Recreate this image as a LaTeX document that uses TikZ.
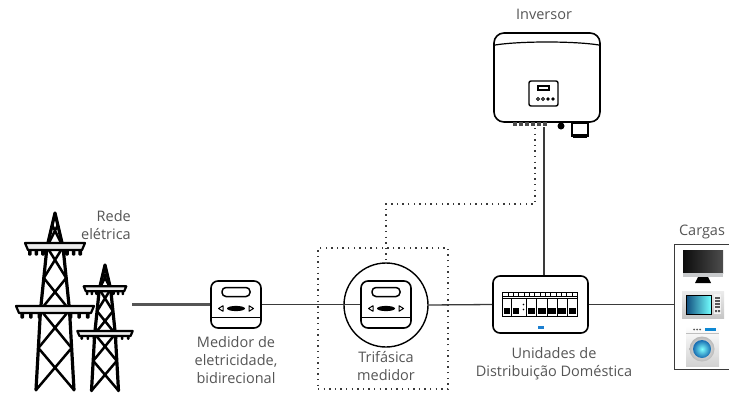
\documentclass[tikz,border=0pt]{standalone}
\usepackage{fontspec}
\setmainfont{Open Sans}
\usetikzlibrary{positioning}

\definecolor{wire}{HTML}{3A3A3A}
\definecolor{inkgray}{HTML}{555555}
\definecolor{gridgray}{HTML}{555555}
\definecolor{lcdblue}{HTML}{1C7FD0}
\definecolor{silver}{HTML}{C8CACC}

\tikzset{
  lbl/.style={text=inkgray, font=\fontsize{14.5}{18}\selectfont, align=center, inner sep=0pt},
  wireline/.style={draw=wire, line width=1.3pt},
  commline/.style={draw=wire, line width=1.4pt, dash pattern=on 1.4pt off 4.2pt},
  housing/.style={draw=black, line width=1.6pt, fill=white, inner sep=0pt},
  tower/.style={line width=3.2pt, line cap=round, line join=round},
  pics/pylon/.style={code={
    % legs
    \draw[tower] (-19,177) -- (-14.5,97) -- (-8,34) -- (0,0) -- (8,34) -- (14.5,97) -- (19,177);
    % lattice
    \foreach \ya/\wa/\yb/\wb in {12/2.8/34/8, 34/8/65/11.2, 65/11.2/97/14.5, 97/14.5/135/16.6, 135/16.6/177/19}
      \draw[tower, line width=2.5pt] (-\wa,\ya) -- (\wb,\yb) (\wa,\ya) -- (-\wb,\yb);
    % cross arms and insulators
    \foreach \yy/\ww in {34/30, 97/39} {
      \foreach \f in {-0.84,-0.62,-0.4,0.4,0.62,0.84}
        \fill[rounded corners=1pt] (\f*\ww-1.8,\yy+2) rectangle (\f*\ww+1.8,\yy+8.5);
      \draw[line width=2.2pt, fill=gray!15, line join=round]
        (-\ww,\yy-4) -- (\ww,\yy-4) -- (\ww-3,\yy+3) -- (-\ww+3,\yy+3) -- cycle;
    }
  }},
}

% face of an electricity meter, drawn inside node #1
\newcommand\meterdial[1]{%
  \begin{scope}[shift={(#1.center)}]
    \draw[line width=1.5pt, rounded corners=4pt] (-14,-17) rectangle (14,-8);
    \fill (0,4) ellipse [x radius=9pt, y radius=2.6pt];
    \draw[line width=1pt, line join=round] (-17.5,4) -- (-13,1.2) -- (-13,6.8) -- cycle
      (17.5,4) -- (13,1.2) -- (13,6.8) -- cycle;
    \draw[line width=1.4pt] (-25,13) -- (25,13);
  \end{scope}}

% breaker rows of the distribution board #1
\newcommand\breakerrow[1]{%
  \begin{scope}[shift={(#1.center)}]
    \draw[line width=1pt] (-38,-12) rectangle (37,12);
    \foreach \i in {0,...,13}
      \draw[line width=0.6pt] (-38+\i*5.357,-12) rectangle ++(5.357,4);
    \draw[line width=0.8pt] (-38,-6) -- (37,-6);
    \foreach \xa/\xb in {-38/-29, -29/-20, -14/-3.8, -3.8/6.4, 6.4/16.6, 16.6/26.8, 26.8/37} {
      \draw[line width=0.6pt] (\xa,-6) -- (\xa,12);
      \fill (\xa+1.3,3.5) rectangle (\xb-1.3,9.5);
    }
    \draw[line width=0.6pt] (-14,-6) -- (-14,12);
    \fill (-17,0) circle (0.9pt) (-17,5) circle (0.9pt);
    \fill[lcdblue] (-3,21) rectangle (3,24);
  \end{scope}}

\begin{document}
\begin{tikzpicture}[x=1pt, y=-1pt]
\useasboundingbox (0,0) rectangle (729,394);

% grid
\pic at (55,213) {pylon};
\pic[scale=0.71] at (105,265) {pylon};
\coordinate (gridend) at (132,304.5);

% inverter
\node[housing, rounded corners=10pt, minimum width=106pt, minimum height=89pt] (inverter) at (547,77.5) {};
\draw[line width=1.2pt] (495,45) .. controls (520,41) and (574,41) .. (599,45);
\draw[line width=1.4pt, rounded corners=2pt] (529,81) rectangle (558,106);
\draw[line width=1.1pt] (538,86) rectangle (549,90);
\draw[line width=0.8pt] (538,99) circle (1.5pt) (543,99) circle (1.5pt);
\fill (548,99) circle (1.8pt) (553,99) circle (1.8pt);
\foreach \x in {513,519,...,543}
  \fill[gray!60!black] (\x,122) rectangle ++(4,4);
\fill (561,126) circle (3.5pt);
\draw[line width=1.3pt, fill=white] (572,123) rectangle (588,136);
\fill (573,134) rectangle (587,138);
\coordinate (invac) at (544,127);
\coordinate (invcom) at (535,128);

% meters
\node[housing, rounded corners=7pt, minimum width=50pt, minimum height=47pt] (bimeter) at (236,304.5) {};
\meterdial{bimeter}
\node[commline, minimum width=130pt, minimum height=141pt, inner sep=0pt] (ctzone) at (383,318.5) {};
\node[draw=black, line width=1.4pt, circle, minimum size=84pt, inner sep=0pt] (ctring) at (386,305) {};
\node[housing, rounded corners=7pt, minimum width=50pt, minimum height=47pt] (ctmeter) at (386,304.5) {};
\meterdial{ctmeter}

% distribution board
\node[housing, rounded corners=7pt, minimum width=95pt, minimum height=57pt] (dbox) at (540.5,304.5) {};
\breakerrow{dbox}

% loads
\node[minimum width=56pt, minimum height=124pt, inner sep=0pt] (loads) at (703,307) {};
\draw[wireline] (loads.north east) -- (loads.north west) -- (loads.south west) -- (loads.south east);
% monitor
\shade[left color=black!95, right color=black!70] (683,250) rectangle (723,273);
\fill[silver] (683,273) rectangle (723,277);
\fill (698,277) -- (708,277) -- (711,283) -- (695,283) -- cycle;
% microwave
\shade[top color=gray!15, bottom color=gray!45] (682,291) rectangle (724,318);
\shade[left color=lcdblue!60!black, right color=cyan!55, draw=black, line width=0.8pt] (686,295) rectangle (711,314);
\fill[gray!10] (714,294) rectangle (721,314);
\foreach \y in {297,300,...,306}
  \fill[gray!70!black] (715,\y) rectangle ++(5,2);
\fill[gray!70!black] (715,310) rectangle ++(2,2) (718,310) rectangle ++(2,2);
% washer
\shade[top color=white, bottom color=gray!35] (686,326) rectangle (719,366);
\draw[gray!50, line width=0.5pt] (686,333) -- (719,333);
\fill[gray!70!black] (694,329.5) circle (1pt) (697,329.5) circle (1pt) (700,329.5) circle (1pt);
\fill[cyan!70!blue] (705,328) rectangle (716,331);
\shade[inner color=white, outer color=gray!55] (702,349) circle (12.5pt);
\shade[inner color=cyan!50, outer color=lcdblue!85!black] (702,349) circle (9pt);

% power path
\draw[draw=gridgray, line width=2.2pt] (gridend) -- (bimeter.west);
\draw[wireline] (bimeter.east) -- (ctmeter.west);
\draw[wireline] (ctring.east) -- (dbox.west);
\draw[wireline] (dbox.east) -- (dbox.east -| loads.west);
\draw[wireline] (invac) -- (invac |- dbox.north);
% meter communication
\draw[commline] (invcom) -- ++(0,76) -| (ctring.north);

% labels
\node[lbl] (invlbl) at (544,14) {Inversor};
\node[lbl, align=right, anchor=east] (gridlbl) at (131,225) {Rede\\elétrica};
\node[lbl] (loadlbl) at (702,232) {Cargas};
\node[lbl] (bimeterlbl) at (236,360) {Medidor de\\eletricidade,\\bidirecional};
\node[lbl] (ctlbl) at (386,366) {Trifásica\\medidor};
\node[lbl] (dblbl) at (554,364) {Unidades de\\Distribuição Doméstica};
\end{tikzpicture}
\end{document}
